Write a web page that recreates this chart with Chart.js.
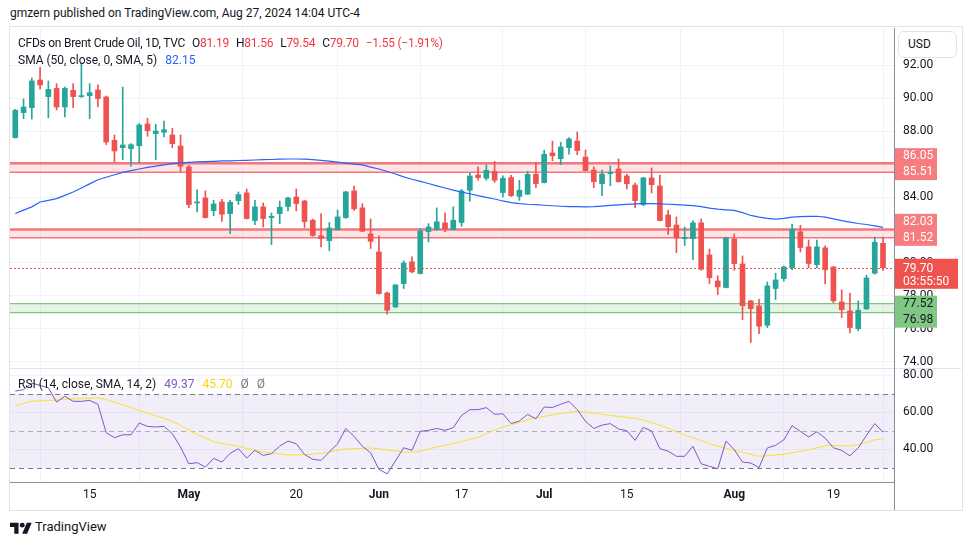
<!DOCTYPE html>
<html>
<head>
<meta charset="utf-8">
<title>CFDs on Brent Crude Oil, 1D</title>
<script src="https://cdn.jsdelivr.net/npm/chart.js@4.4.1/dist/chart.umd.min.js"></script>
<style>
  body { margin: 0; background: #fff; font-family: Roboto, "Noto Sans", sans-serif; color: #131722; }
  #page { position: relative; width: 970px; height: 545px; overflow: hidden; }
  #frame { position: absolute; left: 9px; top: 26px; width: 954px; height: 485px; border: 1px solid #e0e3eb; box-sizing: border-box; }
  #c { position: absolute; left: 10px; top: 28px; }
  .txt { position: absolute; white-space: nowrap; font-size: 12px; line-height: 16px; }
  #lg1 { letter-spacing: -0.25px; }
  .red { color: #f23645; }
  .sp { margin-left: 7px; }
  .sr { margin-left: 8px; }
  #usd { position: absolute; left: 898px; top: 31px; width: 59px; height: 27px; box-sizing: border-box; border: 1px solid #e0e3eb; border-radius: 6px; background: #fff; font-size: 12px; line-height: 25px; padding-left: 9px; }
  #foot { position: absolute; left: 10px; top: 518px; font-size: 13px; line-height: 18px; display: flex; align-items: center; }
</style>
</head>
<body>
<div id="page">
  <div class="txt" style="left:10px;top:5px">gmzern published on TradingView.com, Aug 27, 2024 14:04 UTC-4</div>
  <div id="frame"></div>
  <canvas id="c" width="951" height="482"></canvas>
  <div class="txt" id="lg1" style="left:18px;top:35px"></div>
  <div class="txt" id="lg2" style="left:18px;top:52px"></div>
  <div class="txt" id="lg3" style="left:18px;top:376px"></div>
  <div id="usd">USD</div>
  <div id="foot">
    <svg width="22" height="14" viewBox="0 0 36 22"><path d="M14 22H7V11H0V4h14v18zM28 22h-8l7.5-18h8L28 22z" fill="#131722"/><circle cx="20" cy="8" r="4" fill="#131722"/></svg>
    <span style="margin-left:3px">TradingView</span>
  </div>
</div>
<script>
// daily candles, Apr 2 – Aug 27 2024 (index = trading day)
var opens = [87.61, 89.13, 89.43, 91.11, 90.10, 90.60, 89.47, 90.48, 90.10, 90.16,
  90.50, 90.08, 87.45, 87.00, 86.94, 87.12, 88.44, 87.85, 87.93, 87.77,
  87.10, 85.83, 83.64, 83.94, 83.17, 83.70, 82.99, 83.78, 84.25, 82.57,
  83.40, 82.75, 82.99, 83.42, 84.00, 83.76, 82.59, 81.64, 81.35, 82.02,
  82.75, 84.37, 83.34, 81.76, 80.66, 78.17, 77.32, 78.74, 80.06, 79.35,
  81.90, 82.02, 82.43, 82.02, 82.45, 84.41, 85.34, 85.14, 85.56, 84.27,
  85.18, 84.04, 84.17, 85.38, 84.87, 86.68, 86.33, 87.00, 87.40, 86.43,
  85.64, 84.81, 85.42, 85.70, 85.28, 84.73, 83.54, 85.16, 84.67, 82.91,
  82.30, 81.47, 81.47, 82.43, 80.48, 78.90, 78.50, 81.45, 79.93, 77.69,
  77.38, 76.21, 78.44, 79.04, 79.71, 81.88, 80.97, 79.89, 80.91, 79.75,
  77.63, 77.08, 76.00, 77.20, 79.37, 81.19];
var highs = [89.33, 89.96, 91.23, 91.88, 91.05, 90.89, 90.68, 90.89, 92.15, 90.89,
  90.81, 90.14, 87.77, 90.68, 87.24, 88.46, 88.78, 88.42, 88.62, 88.17,
  87.77, 85.93, 84.43, 84.37, 83.80, 83.86, 83.80, 84.31, 84.49, 83.80,
  83.64, 83.03, 83.76, 84.00, 84.49, 83.80, 82.65, 82.99, 82.45, 83.21,
  84.35, 84.67, 83.60, 82.67, 81.64, 78.23, 78.68, 80.12, 80.36, 82.08,
  82.38, 83.34, 83.03, 83.40, 84.47, 85.46, 85.83, 85.95, 86.17, 85.28,
  85.32, 85.02, 85.56, 86.11, 86.84, 87.40, 87.32, 87.61, 87.95, 86.86,
  85.83, 85.64, 85.89, 86.31, 85.38, 84.85, 85.20, 85.77, 85.34, 83.19,
  82.79, 82.18, 82.55, 82.67, 80.85, 79.21, 81.57, 81.76, 80.42, 77.72,
  77.79, 78.84, 79.37, 79.81, 82.36, 82.28, 81.39, 81.39, 81.03, 79.77,
  78.36, 78.17, 77.69, 79.25, 81.57, 81.56];
var lows = [87.58, 88.76, 88.74, 90.56, 88.82, 89.29, 88.86, 89.43, 90.05, 88.76,
  89.47, 87.18, 86.13, 86.27, 85.87, 86.07, 87.69, 86.27, 87.65, 87.00,
  85.52, 83.36, 83.09, 82.72, 82.87, 82.51, 81.78, 83.54, 82.66, 82.32,
  82.18, 81.11, 82.38, 83.15, 83.15, 82.14, 81.62, 80.97, 80.74, 81.99,
  82.70, 83.19, 81.90, 80.87, 78.10, 76.88, 77.28, 78.44, 79.39, 79.33,
  81.27, 81.98, 81.90, 82.00, 82.22, 83.74, 85.02, 85.02, 84.89, 84.00,
  84.04, 83.80, 84.15, 84.57, 84.85, 86.21, 85.97, 86.60, 86.57, 85.58,
  84.57, 84.08, 84.69, 84.90, 84.49, 83.36, 83.48, 84.25, 82.55, 81.72,
  80.62, 81.05, 80.20, 79.55, 78.74, 78.07, 78.48, 79.55, 76.55, 75.16,
  75.70, 76.07, 77.77, 78.88, 79.59, 80.66, 79.71, 79.71, 78.72, 77.57,
  76.68, 75.74, 75.87, 77.16, 79.31, 79.54];
var closes = [89.27, 89.47, 91.05, 90.81, 90.54, 89.47, 90.60, 90.10, 90.14, 90.34,
  89.98, 87.34, 86.80, 87.16, 87.18, 88.38, 88.03, 88.01, 88.09, 87.24,
  85.87, 83.54, 83.70, 82.75, 83.58, 82.95, 83.68, 84.15, 82.69, 83.40,
  82.69, 82.83, 83.38, 83.94, 83.60, 82.51, 81.66, 81.47, 82.12, 82.79,
  84.31, 83.28, 81.92, 81.31, 78.13, 77.12, 78.66, 79.99, 79.45, 81.94,
  82.18, 82.49, 82.06, 82.59, 84.37, 85.28, 85.18, 85.62, 85.02, 85.14,
  84.08, 84.41, 85.38, 84.81, 86.60, 86.51, 87.04, 87.53, 86.82, 85.60,
  84.93, 85.40, 85.50, 84.93, 84.81, 83.78, 85.16, 84.75, 82.57, 82.20,
  81.51, 81.55, 82.43, 79.61, 79.10, 78.54, 81.51, 79.95, 77.40, 77.22,
  76.15, 78.60, 78.96, 79.75, 82.04, 80.93, 79.96, 80.97, 79.59, 77.69,
  77.16, 76.07, 77.12, 79.08, 81.25, 79.70];
var sma50 = [83.00, 83.20, 83.40, 83.70, 83.80, 83.90, 84.10, 84.30, 84.55, 84.80,
  85.05, 85.20, 85.35, 85.50, 85.60, 85.70, 85.80, 85.88, 85.95, 86.03,
  86.08, 86.11, 86.13, 86.15, 86.17, 86.19, 86.20, 86.22, 86.23, 86.25,
  86.27, 86.28, 86.30, 86.31, 86.31, 86.30, 86.27, 86.23, 86.18, 86.12,
  86.06, 86.00, 85.95, 85.82, 85.70, 85.55, 85.40, 85.22, 85.08, 84.95,
  84.82, 84.68, 84.55, 84.42, 84.30, 84.20, 84.08, 83.98, 83.88, 83.76,
  83.66, 83.60, 83.56, 83.54, 83.50, 83.47, 83.44, 83.42, 83.41, 83.40,
  83.41, 83.45, 83.49, 83.52, 83.55, 83.58, 83.60, 83.60, 83.58, 83.56,
  83.54, 83.51, 83.48, 83.42, 83.32, 83.26, 83.22, 83.19, 83.05, 82.88,
  82.78, 82.70, 82.66, 82.70, 82.78, 82.81, 82.82, 82.83, 82.78, 82.67,
  82.56, 82.47, 82.39, 82.33, 82.25, 82.15];
var rsi = [71.4, 72.2, 75.7, 74.5, 73.2, 65.5, 68.6, 65.9, 65.9, 66.4,
  64.3, 49.0, 46.3, 47.9, 47.9, 54.2, 52.4, 52.1, 52.4, 48.5,
  41.3, 32.3, 32.9, 30.5, 35.2, 33.2, 37.9, 40.4, 35.4, 39.5,
  36.8, 37.7, 41.8, 44.5, 43.1, 37.3, 34.7, 34.1, 38.6, 43.1,
  51.3, 47.0, 41.7, 38.2, 29.3, 26.9, 33.8, 40.9, 39.5, 49.7,
  50.3, 51.3, 50.3, 51.7, 58.3, 61.4, 61.4, 62.5, 58.9, 59.2,
  53.9, 55.3, 58.9, 56.5, 62.8, 62.6, 64.3, 65.9, 61.4, 55.1,
  51.3, 53.1, 53.9, 51.0, 50.1, 44.9, 51.9, 49.9, 40.4, 39.1,
  36.3, 36.3, 41.7, 32.3, 30.9, 29.6, 44.5, 39.9, 33.2, 32.7,
  30.2, 40.8, 42.2, 45.2, 52.8, 49.7, 46.7, 49.5, 46.1, 40.9,
  39.5, 36.6, 40.8, 47.6, 53.9, 49.37];
var rsiMa = [63.5, 64.8, 65.9, 66.1, 66.4, 66.6, 67.0, 67.2, 67.4, 67.6,
  67.8, 66.8, 65.5, 64.0, 62.5, 61.0, 59.6, 58.2, 56.8, 55.0,
  53.0, 50.3, 48.2, 46.0, 44.2, 43.2, 42.5, 41.7, 40.6, 39.5,
  38.6, 38.1, 37.6, 37.0, 37.0, 37.2, 37.5, 38.0, 38.6, 39.6,
  40.2, 40.4, 40.6, 40.8, 40.3, 39.7, 39.2, 38.6, 38.4, 39.0,
  40.2, 41.3, 42.2, 43.2, 44.3, 45.5, 46.5, 48.5, 50.5, 52.1,
  53.3, 54.5, 56.0, 57.0, 57.8, 58.6, 59.3, 60.0, 60.5, 60.1,
  59.6, 58.9, 58.3, 57.8, 57.2, 56.7, 55.8, 54.5, 53.0, 51.3,
  49.5, 47.8, 46.3, 44.8, 43.2, 41.7, 40.6, 39.5, 38.5, 37.4,
  36.4, 36.5, 37.0, 37.4, 38.2, 39.0, 39.8, 40.8, 42.0, 42.2,
  42.0, 41.8, 42.5, 43.8, 45.2, 45.70];

var tickIdx = [9, 21, 34, 44, 54, 64, 74, 87, 99];
var tickText = ['15', 'May', '20', 'Jun', '17', 'Jul', '15', 'Aug', '19'];
var priceTicks = [74, 76, 78, 80, 82, 84, 86, 88, 90, 92];
var rsiTicks = [40, 60, 80];
var rsiLevels = [30, 50, 70];
var redZones = [[85.51, 86.05], [81.52, 82.03]];
var greenZones = [[76.98, 77.52]];
var countdown = '03:55:50';

var UP = '#26a69a', DOWN = '#ef5350';
var FONT = 'Roboto, "Noto Sans", sans-serif';
var last = closes.length - 1;

function candleColor(c) {
  var i = c.dataIndex;
  return closes[i] >= opens[i] ? UP : DOWN;
}

// legend texts
var chg = closes[last] - closes[last - 1];
var pct = chg / closes[last - 1] * 100;
function sgn(v) { return (v < 0 ? '\u2212' : '+') + Math.abs(v).toFixed(2); }
document.getElementById('lg1').innerHTML = 'CFDs on Brent Crude Oil, 1D, TVC' +
  '<span class="sp">O</span><span class="red">' + opens[last].toFixed(2) + '</span>' +
  '<span class="sp">H</span><span class="red">' + highs[last].toFixed(2) + '</span>' +
  '<span class="sp">L</span><span class="red">' + lows[last].toFixed(2) + '</span>' +
  '<span class="sp">C</span><span class="red">' + closes[last].toFixed(2) + '</span>' +
  '<span class="sp red">' + sgn(chg) + ' (' + sgn(pct) + '%)</span>';
document.getElementById('lg2').innerHTML = 'SMA (50, close, 0, SMA, 5)' +
  '<span class="sr" style="color:#2962ff">' + sma50[last].toFixed(2) + '</span>';
document.getElementById('lg3').innerHTML = 'RSI (14, close, SMA, 14, 2)' +
  '<span class="sr" style="color:#7e57c2">' + rsi[last].toFixed(2) + '</span>' +
  '<span class="sr" style="color:#f5d90a">' + rsiMa[last].toFixed(2) + '</span>' +
  '<span class="sr" style="color:#787b86">\u00d8</span><span class="sr" style="color:#787b86">\u00d8</span>';

var overlay = {
  id: 'overlay',
  beforeDatasetsDraw: function (chart) {
    var ctx = chart.ctx, a = chart.chartArea, y = chart.scales.y, yr = chart.scales.yr;
    ctx.save();
    // RSI band + levels
    var t = yr.getPixelForValue(rsiLevels[2]), b = yr.getPixelForValue(rsiLevels[0]);
    ctx.fillStyle = 'rgba(126,87,194,0.1)';
    ctx.fillRect(a.left, t, a.width, b - t);
    ctx.setLineDash([5, 4]);
    ctx.lineWidth = 1;
    rsiLevels.forEach(function (v, k) {
      var py = Math.round(yr.getPixelForValue(v)) + 0.5;
      ctx.strokeStyle = k === 1 ? 'rgba(120,123,134,0.55)' : '#787b86';
      ctx.beginPath(); ctx.moveTo(a.left, py); ctx.lineTo(a.right, py); ctx.stroke();
    });
    ctx.setLineDash([]);
    // zones
    function zone(lo, hi, fill, line, w1, w2) {
      var pt = y.getPixelForValue(hi), pb = y.getPixelForValue(lo);
      ctx.fillStyle = fill;
      ctx.fillRect(a.left, pt, a.width, pb - pt);
      ctx.strokeStyle = line;
      ctx.lineWidth = w1;
      ctx.beginPath(); ctx.moveTo(a.left, pt); ctx.lineTo(a.right, pt); ctx.stroke();
      ctx.lineWidth = w2;
      ctx.beginPath(); ctx.moveTo(a.left, pb); ctx.lineTo(a.right, pb); ctx.stroke();
    }
    redZones.forEach(function (z) { zone(z[0], z[1], 'rgba(242,54,69,0.13)', '#f4777c', 2.5, 1.5); });
    greenZones.forEach(function (z) { zone(z[0], z[1], 'rgba(76,175,80,0.14)', '#81c784', 1.2, 1.2); });
    ctx.restore();
  },
  afterDatasetsDraw: function (chart) {
    var ctx = chart.ctx, a = chart.chartArea, y = chart.scales.y;
    var py = Math.round(y.getPixelForValue(closes[last])) + 0.5;
    ctx.save();
    ctx.strokeStyle = DOWN;
    ctx.lineWidth = 1;
    ctx.setLineDash([2, 2]);
    ctx.beginPath(); ctx.moveTo(a.left, py); ctx.lineTo(a.right, py); ctx.stroke();
    ctx.restore();
  },
  afterDraw: function (chart) {
    var ctx = chart.ctx, a = chart.chartArea, y = chart.scales.y;
    var W = chart.width, H = chart.height;
    var x0 = a.right + 1, tx = a.right + 9;
    ctx.save();
    // frame lines
    ctx.lineWidth = 1;
    ctx.strokeStyle = '#e0e3eb';
    var sep = Math.round(y.bottom) + 0.5;
    ctx.beginPath(); ctx.moveTo(a.left, sep); ctx.lineTo(W, sep); ctx.stroke();
    ctx.strokeStyle = '#8a8d96';
    ctx.beginPath(); ctx.moveTo(a.right + 0.5, 0); ctx.lineTo(a.right + 0.5, H); ctx.stroke();
    ctx.beginPath(); ctx.moveTo(a.left, a.bottom + 0.5); ctx.lineTo(a.right, a.bottom + 0.5); ctx.stroke();
    // price tags
    ctx.font = '12px ' + FONT;
    ctx.textBaseline = 'middle';
    redZones.forEach(function (z) {
      var yl = y.getPixelForValue(z[0]);
      ctx.fillStyle = '#f77c80';
      ctx.fillRect(x0, yl - 24, 42, 32);
      ctx.fillStyle = '#fff';
      ctx.fillText(z[1].toFixed(2), tx, yl - 16);
      ctx.fillText(z[0].toFixed(2), tx, yl);
    });
    greenZones.forEach(function (z) {
      var yh = y.getPixelForValue(z[1]);
      ctx.fillStyle = '#81c784';
      ctx.fillRect(x0, yh - 8, 42, 32);
      ctx.fillStyle = '#131722';
      ctx.fillText(z[1].toFixed(2), tx, yh);
      ctx.fillText(z[0].toFixed(2), tx, yh + 16);
    });
    var yc = y.getPixelForValue(closes[last]);
    ctx.fillStyle = DOWN;
    ctx.fillRect(x0, yc - 9, 63, 30);
    ctx.fillStyle = '#fff';
    ctx.fillText(closes[last].toFixed(2), tx, yc + 1);
    ctx.fillText(countdown, tx, yc + 14);
    ctx.restore();
  }
};

var idx = closes.map(function (v, i) { return i; });

function fitY(s) { s.width = 67; s.paddingTop = 0; s.paddingBottom = 0; }

new Chart(document.getElementById('c'), {
  type: 'bar',
  data: {
    datasets: [
      { type: 'line', label: 'SMA 50', yAxisID: 'y', data: idx.map(function (i) { return { x: i, y: sma50[i] }; }),
        borderColor: '#2962ff', borderWidth: 1.2, pointRadius: 0, tension: 0 },
      { label: 'body', yAxisID: 'y', grouped: false, barThickness: 5, minBarLength: 1,
        data: idx.map(function (i) { return { x: i, y: [opens[i], closes[i]] }; }),
        backgroundColor: candleColor, borderWidth: 0 },
      { label: 'wick', yAxisID: 'y', grouped: false, barThickness: 1,
        data: idx.map(function (i) { return { x: i, y: [lows[i], highs[i]] }; }),
        backgroundColor: candleColor, borderWidth: 0 },
      { type: 'line', label: 'RSI', yAxisID: 'yr', data: idx.map(function (i) { return { x: i, y: rsi[i] }; }),
        borderColor: '#7e57c2', borderWidth: 1, pointRadius: 0, tension: 0 },
      { type: 'line', label: 'RSI MA', yAxisID: 'yr', data: idx.map(function (i) { return { x: i, y: rsiMa[i] }; }),
        borderColor: '#fbe02a', borderWidth: 1, pointRadius: 0, tension: 0 }
    ]
  },
  options: {
    responsive: false,
    animation: false,
    layout: { padding: 0 },
    plugins: { legend: { display: false }, tooltip: { enabled: false } },
    scales: {
      x: {
        type: 'linear', min: -0.64, max: 106.33, offset: false,
        afterFit: function (s) { s.height = 28; s.paddingLeft = 0; s.paddingRight = 0; },
        afterBuildTicks: function (s) { s.ticks = tickIdx.map(function (v) { return { value: v }; }); },
        grid: { color: '#f0f3fa', drawTicks: false },
        border: { display: false },
        ticks: {
          autoSkip: false, maxRotation: 0, padding: 6, color: '#131722',
          callback: function (v) { return tickText[tickIdx.indexOf(v)]; },
          font: function (c) {
            var lab = c.tick ? c.tick.label : '';
            return { size: 12, family: FONT, weight: /^[A-Z]/.test(lab) ? 'bold' : 'normal' };
          }
        }
      },
      y: {
        type: 'linear', position: 'right', stack: 'panes', stackWeight: 340,
        min: 73.61, max: 94.27,
        afterFit: fitY,
        afterBuildTicks: function (s) { s.ticks = priceTicks.map(function (v) { return { value: v }; }); },
        grid: { color: '#f0f3fa', drawTicks: false },
        border: { display: false },
        ticks: { padding: 9, color: '#131722', font: { size: 12, family: FONT },
          callback: function (v) { return v.toFixed(2); } }
      },
      yr: {
        type: 'linear', position: 'right', stack: 'panes', stackWeight: 114,
        min: 22.48, max: 83.83,
        afterFit: fitY,
        afterBuildTicks: function (s) { s.ticks = rsiTicks.map(function (v) { return { value: v }; }); },
        grid: { color: '#f0f3fa', drawTicks: false },
        border: { display: false },
        ticks: { padding: 9, color: '#131722', font: { size: 12, family: FONT },
          callback: function (v) { return v.toFixed(2); } }
      }
    }
  },
  plugins: [overlay]
});
</script>
</body>
</html>
